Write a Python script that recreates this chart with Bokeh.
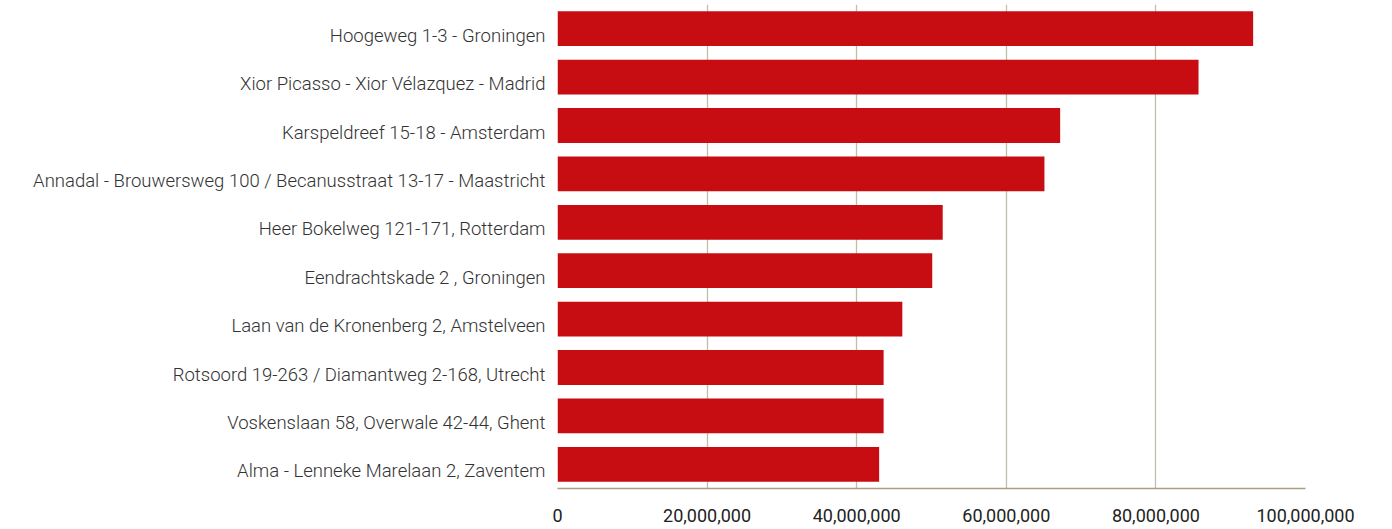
from bokeh.plotting import figure
from bokeh.models import NumeralTickFormatter, FixedTicker, Range1d, CustomJSTickFormatter
from bokeh.embed import file_html
from bokeh.resources import INLINE

categories = [
    "Hoogeweg 1-3 - Groningen",
    "Xior Picasso - Xior Vélazquez - Madrid",
    "Karspeldreef 15-18 - Amsterdam",
    "Annadal - Brouwersweg 100 / Becanusstraat 13-17 - Maastricht",
    "Heer Bokelweg 121-171, Rotterdam",
    "Eendrachtskade 2 , Groningen",
    "Laan van de Kronenberg 2, Amstelveen",
    "Rotsoord 19-263 / Diamantweg 2-168, Utrecht",
    "Voskenslaan 58, Overwale 42-44, Ghent",
    "Alma - Lenneke Marelaan 2, Zaventem",
]
values = [93000000, 85700000, 67200000, 65100000, 51500000,
          50100000, 46100000, 43600000, 43600000, 43000000]
x_ticks = [0, 20000000, 40000000, 60000000, 80000000, 100000000]

idx = list(range(len(categories)))
label_shift = 0.145  # labels sit slightly below bar centres

p = figure(
    y_range=Range1d(len(categories) - 0.5, -0.5),
    x_range=Range1d(0, 100000000),
    frame_width=748, frame_height=484,
    min_border_left=557, min_border_right=70, min_border_top=4, min_border_bottom=38,
    output_backend="svg", toolbar_location=None,
)
p.hbar(y=idx, right=values, left=0, height=0.72, color="#C80D12", line_color=None)

p.outline_line_color = None
p.ygrid.grid_line_color = None
p.xgrid.grid_line_color = "#c2bda9"
p.xgrid.grid_line_width = 1.3
p.xaxis.ticker = FixedTicker(ticks=x_ticks)
p.xaxis.formatter = NumeralTickFormatter(format="0,0")
p.xaxis.axis_line_color = "#a69f82"
p.xaxis.axis_line_width = 1.3
p.xaxis.major_tick_line_color = None
p.xaxis.minor_tick_line_color = None
p.xaxis.major_label_standoff = 14
p.xaxis.major_label_text_font = "Roboto"
p.xaxis.major_label_text_font_size = "18px"
p.xaxis.major_label_text_color = "#222222"

p.yaxis.ticker = FixedTicker(ticks=[i + label_shift for i in idx])
p.yaxis.formatter = CustomJSTickFormatter(args=dict(cats=categories),
                                          code="return cats[Math.round(tick)];")
p.yaxis.axis_line_color = None
p.yaxis.major_tick_line_color = None
p.yaxis.minor_tick_line_color = None
p.yaxis.major_label_standoff = 6
p.yaxis.major_label_text_font = "Roboto Light"
p.yaxis.major_label_text_font_size = "18.5px"
p.yaxis.major_label_text_color = "#333333"

open("out.html", "w").write(file_html(p, INLINE))
